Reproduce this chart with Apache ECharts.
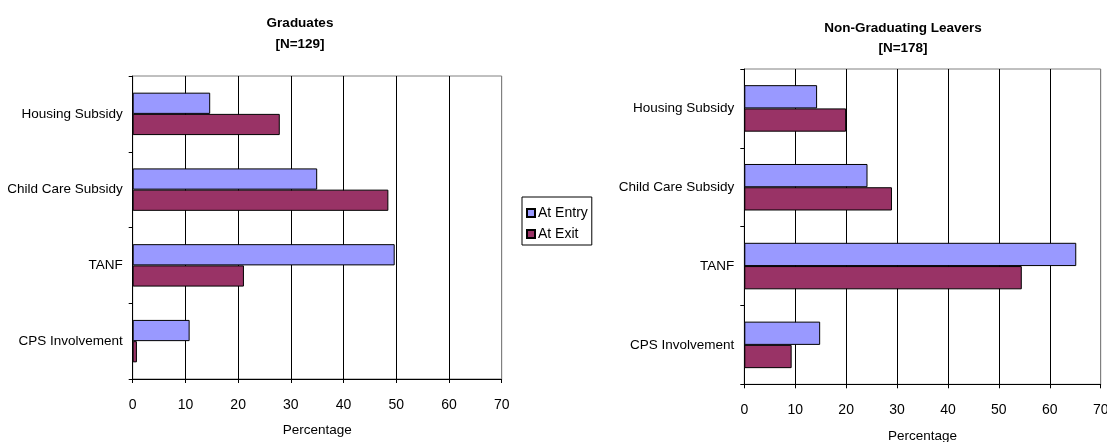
<!DOCTYPE html>
<html>
<head>
<meta charset="utf-8">
<title>Benefit Receipt at Entry and Exit</title>
<script src="https://cdn.jsdelivr.net/npm/echarts@6/dist/echarts.min.js"></script>
<style>
  html, body { margin: 0; padding: 0; background: #fff; }
  #chart { width: 1107px; height: 442px; }
</style>
</head>
<body>
<div id="chart"></div>
<script>
// Categories, top to bottom
const categories = ['Housing Subsidy', 'Child Care Subsidy', 'TANF', 'CPS Involvement'];

// Graduates [N=129], percent
const gradEntry = [14.7, 35.0, 49.7, 10.8];
const gradExit  = [27.9, 48.5, 21.1, 0.8];

// Non-graduating leavers [N=178], percent
const leaverEntry = [14.3, 24.2, 65.2, 14.9];
const leaverExit  = [20.0, 29.0, 54.5, 9.3];

// Percentage axis ticks
const xMin = 0, xMax = 70, xStep = 10;

const FONT = 'Liberation Sans, Arial, sans-serif';
const ENTRY_COLOR = '#9999FF';
const EXIT_COLOR = '#993366';

const chart = echarts.init(document.getElementById('chart'), null, { renderer: 'canvas' });

// Gridlines black, the last one (at max) gray to blend with the plot border
const splitColors = [];
for (let v = xMin; v <= xMax; v += xStep) splitColors.push(v === xMax ? '#808080' : '#000');

function valueAxis(gridIndex, nameGap) {
  return {
    type: 'value',
    gridIndex: gridIndex,
    min: xMin, max: xMax, interval: xStep,
    name: 'Percentage',
    nameLocation: 'middle',
    nameGap: nameGap,
    nameTextStyle: { fontFamily: FONT, fontSize: 13.5, color: '#000' },
    axisLine: { show: true, lineStyle: { color: '#000', width: 1 } },
    axisTick: { show: true, length: 4, lineStyle: { color: '#000' } },
    axisLabel: { margin: 19, fontFamily: FONT, fontSize: 14, color: '#000' },
    splitLine: { show: true, lineStyle: { color: splitColors, width: 1 } }
  };
}

function categoryAxis(gridIndex) {
  return {
    type: 'category',
    gridIndex: gridIndex,
    inverse: true,
    data: categories,
    axisLine: { show: true, lineStyle: { color: '#000', width: 1 } },
    axisTick: { show: true, length: 4, lineStyle: { color: '#000' } },
    axisLabel: { margin: 10, fontFamily: FONT, fontSize: 13.5, color: '#000' },
    splitLine: { show: false }
  };
}

function barSeries(name, data, color, idx, catGap) {
  return {
    name: name,
    type: 'bar',
    xAxisIndex: idx,
    yAxisIndex: idx,
    data: data,
    barGap: '0%',
    barCategoryGap: catGap,
    itemStyle: { color: color, borderColor: '#000', borderWidth: 1 },
    emphasis: { disabled: true },
    animation: false
  };
}

chart.setOption({
  animation: false,
  textStyle: { fontFamily: FONT },
  title: [
    {
      text: 'Graduates\n[N=129]',
      left: 295, top: 8, textAlign: 'center',
      textStyle: { fontFamily: FONT, fontSize: 13.5, fontWeight: 'bold', color: '#000', lineHeight: 21 }
    },
    {
      text: 'Non-Graduating Leavers\n[N=178]',
      left: 898, top: 13, textAlign: 'center',
      textStyle: { fontFamily: FONT, fontSize: 13.5, fontWeight: 'bold', color: '#000', lineHeight: 20 }
    }
  ],
  legend: {
    orient: 'vertical',
    left: 522, top: 197,
    padding: [9, 4, 4, 4],
    itemGap: 7,
    itemWidth: 8, itemHeight: 8,
    icon: 'rect',
    borderColor: '#000', borderWidth: 1,
    data: ['At Entry', 'At Exit'],
    textStyle: { fontFamily: FONT, fontSize: 14, color: '#000', padding: [0, 0, 0, -2] },
    selectedMode: false
  },
  grid: [
    { left: 132.7, top: 76, width: 369, height: 303, show: true, borderColor: '#808080', borderWidth: 1,
      containLabel: false, outerBoundsMode: 'none' },
    { left: 744.3, top: 69, width: 356.4, height: 315.3, show: true, borderColor: '#808080', borderWidth: 1,
      containLabel: false, outerBoundsMode: 'none' }
  ],
  xAxis: [valueAxis(0, 44), valueAxis(1, 45)],
  yAxis: [categoryAxis(0), categoryAxis(1)],
  series: [
    barSeries('At Entry', gradEntry, ENTRY_COLOR, 0, '44%'),
    barSeries('At Exit', gradExit, EXIT_COLOR, 0, '44%'),
    barSeries('At Entry', leaverEntry, ENTRY_COLOR, 1, '41%'),
    barSeries('At Exit', leaverExit, EXIT_COLOR, 1, '41%')
  ]
});
</script>
</body>
</html>
